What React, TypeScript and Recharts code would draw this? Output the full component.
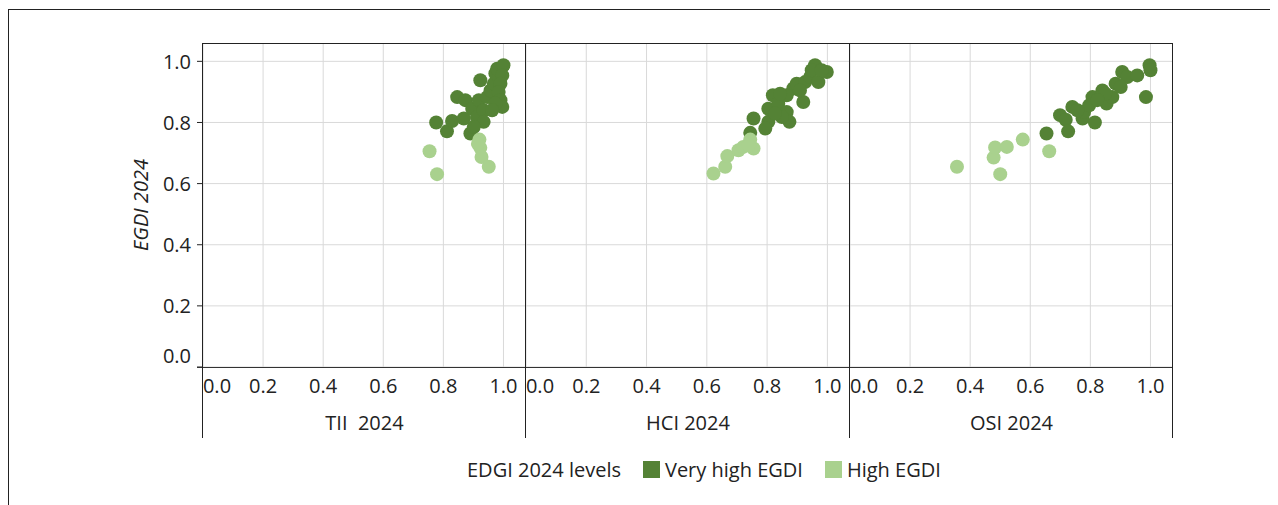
import { CartesianGrid, Legend, Scatter, ScatterChart, XAxis, YAxis } from 'recharts';

// values, one {x, y} per country
const tiiVeryHigh = [
  { x: 0.776, y: 0.8 }, { x: 0.812, y: 0.771 }, { x: 0.829, y: 0.805 }, { x: 0.846, y: 0.883 },
  { x: 0.873, y: 0.873 }, { x: 0.868, y: 0.813 }, { x: 0.89, y: 0.764 }, { x: 0.896, y: 0.845 },
  { x: 0.923, y: 0.938 }, { x: 0.918, y: 0.873 }, { x: 0.912, y: 0.818 }, { x: 0.934, y: 0.84 },
  { x: 0.946, y: 0.883 }, { x: 0.957, y: 0.905 }, { x: 0.968, y: 0.927 }, { x: 0.973, y: 0.96 },
  { x: 0.979, y: 0.976 }, { x: 1.0, y: 0.987 }, { x: 0.996, y: 0.954 }, { x: 0.99, y: 0.927 },
  { x: 0.984, y: 0.9 }, { x: 0.99, y: 0.873 }, { x: 0.996, y: 0.851 }, { x: 0.973, y: 0.862 },
  { x: 0.962, y: 0.84 }, { x: 0.934, y: 0.802 }, { x: 0.901, y: 0.785 },
];
const tiiHigh = [
  { x: 0.754, y: 0.706 }, { x: 0.779, y: 0.631 }, { x: 0.92, y: 0.744 }, { x: 0.923, y: 0.717 },
  { x: 0.927, y: 0.687 }, { x: 0.951, y: 0.655 }, { x: 0.915, y: 0.73 },
];

const hciVeryHigh = [
  { x: 0.744, y: 0.766 }, { x: 0.755, y: 0.813 }, { x: 0.804, y: 0.802 }, { x: 0.804, y: 0.845 },
  { x: 0.819, y: 0.889 }, { x: 0.837, y: 0.862 }, { x: 0.865, y: 0.834 }, { x: 0.874, y: 0.802 },
  { x: 0.849, y: 0.818 }, { x: 0.826, y: 0.829 }, { x: 0.794, y: 0.78 }, { x: 0.887, y: 0.911 },
  { x: 0.898, y: 0.927 }, { x: 0.92, y: 0.867 }, { x: 0.926, y: 0.932 }, { x: 0.943, y: 0.949 },
  { x: 0.959, y: 0.987 }, { x: 0.948, y: 0.971 }, { x: 0.97, y: 0.932 }, { x: 0.998, y: 0.965 },
  { x: 0.981, y: 0.971 }, { x: 0.909, y: 0.905 }, { x: 0.865, y: 0.889 }, { x: 0.843, y: 0.894 },
];
const hciHigh = [
  { x: 0.622, y: 0.633 }, { x: 0.661, y: 0.655 }, { x: 0.668, y: 0.69 }, { x: 0.705, y: 0.709 },
  { x: 0.721, y: 0.72 }, { x: 0.744, y: 0.744 }, { x: 0.755, y: 0.715 }, { x: 0.738, y: 0.725 },
];

const osiVeryHigh = [
  { x: 0.654, y: 0.764 }, { x: 0.699, y: 0.824 }, { x: 0.718, y: 0.809 }, { x: 0.726, y: 0.771 },
  { x: 0.74, y: 0.851 }, { x: 0.774, y: 0.813 }, { x: 0.779, y: 0.834 }, { x: 0.815, y: 0.8 },
  { x: 0.807, y: 0.883 }, { x: 0.84, y: 0.905 }, { x: 0.854, y: 0.862 }, { x: 0.873, y: 0.883 },
  { x: 0.884, y: 0.927 }, { x: 0.906, y: 0.965 }, { x: 0.923, y: 0.949 }, { x: 0.956, y: 0.954 },
  { x: 0.997, y: 0.987 }, { x: 1.0, y: 0.971 }, { x: 0.985, y: 0.883 }, { x: 0.85, y: 0.894 },
  { x: 0.901, y: 0.916 }, { x: 0.796, y: 0.856 }, { x: 0.757, y: 0.84 }, { x: 0.823, y: 0.873 },
];
const osiHigh = [
  { x: 0.356, y: 0.655 }, { x: 0.5, y: 0.631 }, { x: 0.478, y: 0.685 }, { x: 0.483, y: 0.718 },
  { x: 0.522, y: 0.72 }, { x: 0.575, y: 0.744 }, { x: 0.663, y: 0.706 },
];

const ticks = [0, 0.2, 0.4, 0.6, 0.8, 1.0];
const panelTitles = ['TII  2024', 'HCI 2024', 'OSI 2024'];
const seriesNames = ['Very high EGDI', 'High EGDI'];
const legendTitle = 'EDGI 2024 levels';
const yTitle = 'EGDI 2024';

const DARK = '#548235';
const LIGHT = '#A9D18E';
const GRID = '#d9d9d9';
const INK = '#222';
const FONT = '"Open Sans", sans-serif';
const FS = 20;

const XTick = (props: any) => {
  const { x, y, payload } = props;
  const dx = payload.value === 0 ? 14 : 0;
  return (
    <text x={x + dx} y={y + 18} textAnchor="middle" dominantBaseline="central" fill={INK} fontSize={FS} fontFamily={FONT}>
      {Number(payload.value).toFixed(1)}
    </text>
  );
};

const YTick = (props: any) => {
  const { x, y, payload } = props;
  const dy = payload.value === 0 ? -12 : 0;
  return (
    <text x={x} y={y + dy} textAnchor="end" dominantBaseline="central" fill={INK} fontSize={FS} fontFamily={FONT}>
      {Number(payload.value).toFixed(1)}
    </text>
  );
};

const XTitle = (props: any) => {
  const { viewBox, text } = props;
  return (
    <text
      x={viewBox.x + viewBox.width / 2}
      y={viewBox.y + 55}
      textAnchor="middle"
      dominantBaseline="central"
      fill={INK}
      fontSize={FS}
      fontFamily={FONT}
      style={{ whiteSpace: 'pre' }}
    >
      {text}
    </text>
  );
};

const YTitle = (props: any) => {
  const { viewBox } = props;
  const cx = viewBox.x + 20;
  const cy = viewBox.y + viewBox.height / 2;
  return (
    <text
      transform={`translate(${cx},${cy}) rotate(-90)`}
      textAnchor="middle"
      dominantBaseline="central"
      fill={INK}
      fontSize={FS}
      fontStyle="italic"
      fontFamily={FONT}
    >
      {yTitle}
    </text>
  );
};

const dot = (color: string) => (p: any) => <circle cx={p.cx} cy={p.cy} r={7} fill={color} />;

const LegendBox = (props: any) => {
  const items = [...(props.payload || [])].sort(
    (a: any, b: any) => seriesNames.indexOf(a.value) - seriesNames.indexOf(b.value),
  );
  return (
    <div style={{ display: 'flex', alignItems: 'center', fontFamily: FONT, fontSize: FS, color: INK, whiteSpace: 'nowrap' }}>
      <span style={{ marginRight: 22 }}>{legendTitle}</span>
      {items.map((e: any) => (
        <span key={e.value} style={{ display: 'flex', alignItems: 'center', marginRight: 22 }}>
          <span style={{ width: 17, height: 17, background: e.color, marginRight: 5 }} />
          {e.value}
        </span>
      ))}
    </div>
  );
};

interface PanelProps {
  title: string;
  veryHigh: { x: number; y: number }[];
  high: { x: number; y: number }[];
  width: number;
  showY?: boolean;
  showLegend?: boolean;
}

const Panel = ({ title, veryHigh, high, width, showY, showLegend }: PanelProps) => (
  <ScatterChart width={width} height={395} margin={{ top: 0, right: 0, bottom: 0, left: 0 }}>
    <CartesianGrid stroke={GRID} horizontalValues={ticks} verticalValues={ticks} />
    <XAxis
      type="number"
      dataKey="x"
      domain={[0, 1.075]}
      ticks={ticks}
      interval={0}
      height={71}
      axisLine={false}
      tickLine={false}
      tickSize={0}
      tickMargin={0}
      tick={<XTick />}
      label={<XTitle text={title} />}
    />
    <YAxis
      type="number"
      dataKey="y"
      domain={[0, 1.06]}
      ticks={ticks}
      interval={0}
      width={83}
      hide={!showY}
      axisLine={false}
      tickSize={6}
      tickMargin={6}
      tickLine={{ stroke: INK }}
      tick={<YTick />}
      label={<YTitle />}
    />
    <Scatter name={seriesNames[0]} data={veryHigh} fill={DARK} shape={dot(DARK)} isAnimationActive={false} />
    <Scatter name={seriesNames[1]} data={high} fill={LIGHT} shape={dot(LIGHT)} isAnimationActive={false} />
    {showLegend ? (
      <Legend
        layout="horizontal"
        verticalAlign="middle"
        content={<LegendBox />}
        wrapperStyle={{ top: 413, left: -59, width: 560 }}
      />
    ) : null}
  </ScatterChart>
);

const line = (left: number, top: number, width: number, height: number, color = INK) => (
  <div style={{ position: 'absolute', left, top, width, height, background: color, pointerEvents: 'none' }} />
);

export default function App() {
  return (
    <div style={{ position: 'relative', width: 1270, height: 497, background: '#fff' }}>
      <div style={{ position: 'absolute', left: 112, top: 35 }}>
        <Panel title={panelTitles[0]} veryHigh={tiiVeryHigh} high={tiiHigh} width={406} showY />
      </div>
      <div style={{ position: 'absolute', left: 518, top: 35 }}>
        <Panel title={panelTitles[1]} veryHigh={hciVeryHigh} high={hciHigh} width={324} showLegend />
      </div>
      <div style={{ position: 'absolute', left: 842, top: 35 }}>
        <Panel title={panelTitles[2]} veryHigh={osiVeryHigh} high={osiHigh} width={323} />
      </div>
      {/* outer frame */}
      {line(0, 1, 1268, 1)}
      {line(0, 1, 1, 496)}
      {line(1269, 1, 1, 496, '#cfcfcf')}
      {/* panel frames */}
      {line(194, 35, 971, 1)}
      {line(189, 359, 976, 1, '#333')}
      {line(194, 35, 1, 395)}
      {line(517, 35, 1, 395)}
      {line(841, 35, 1, 395)}
      {line(1164, 35, 1, 395)}
    </div>
  );
}
